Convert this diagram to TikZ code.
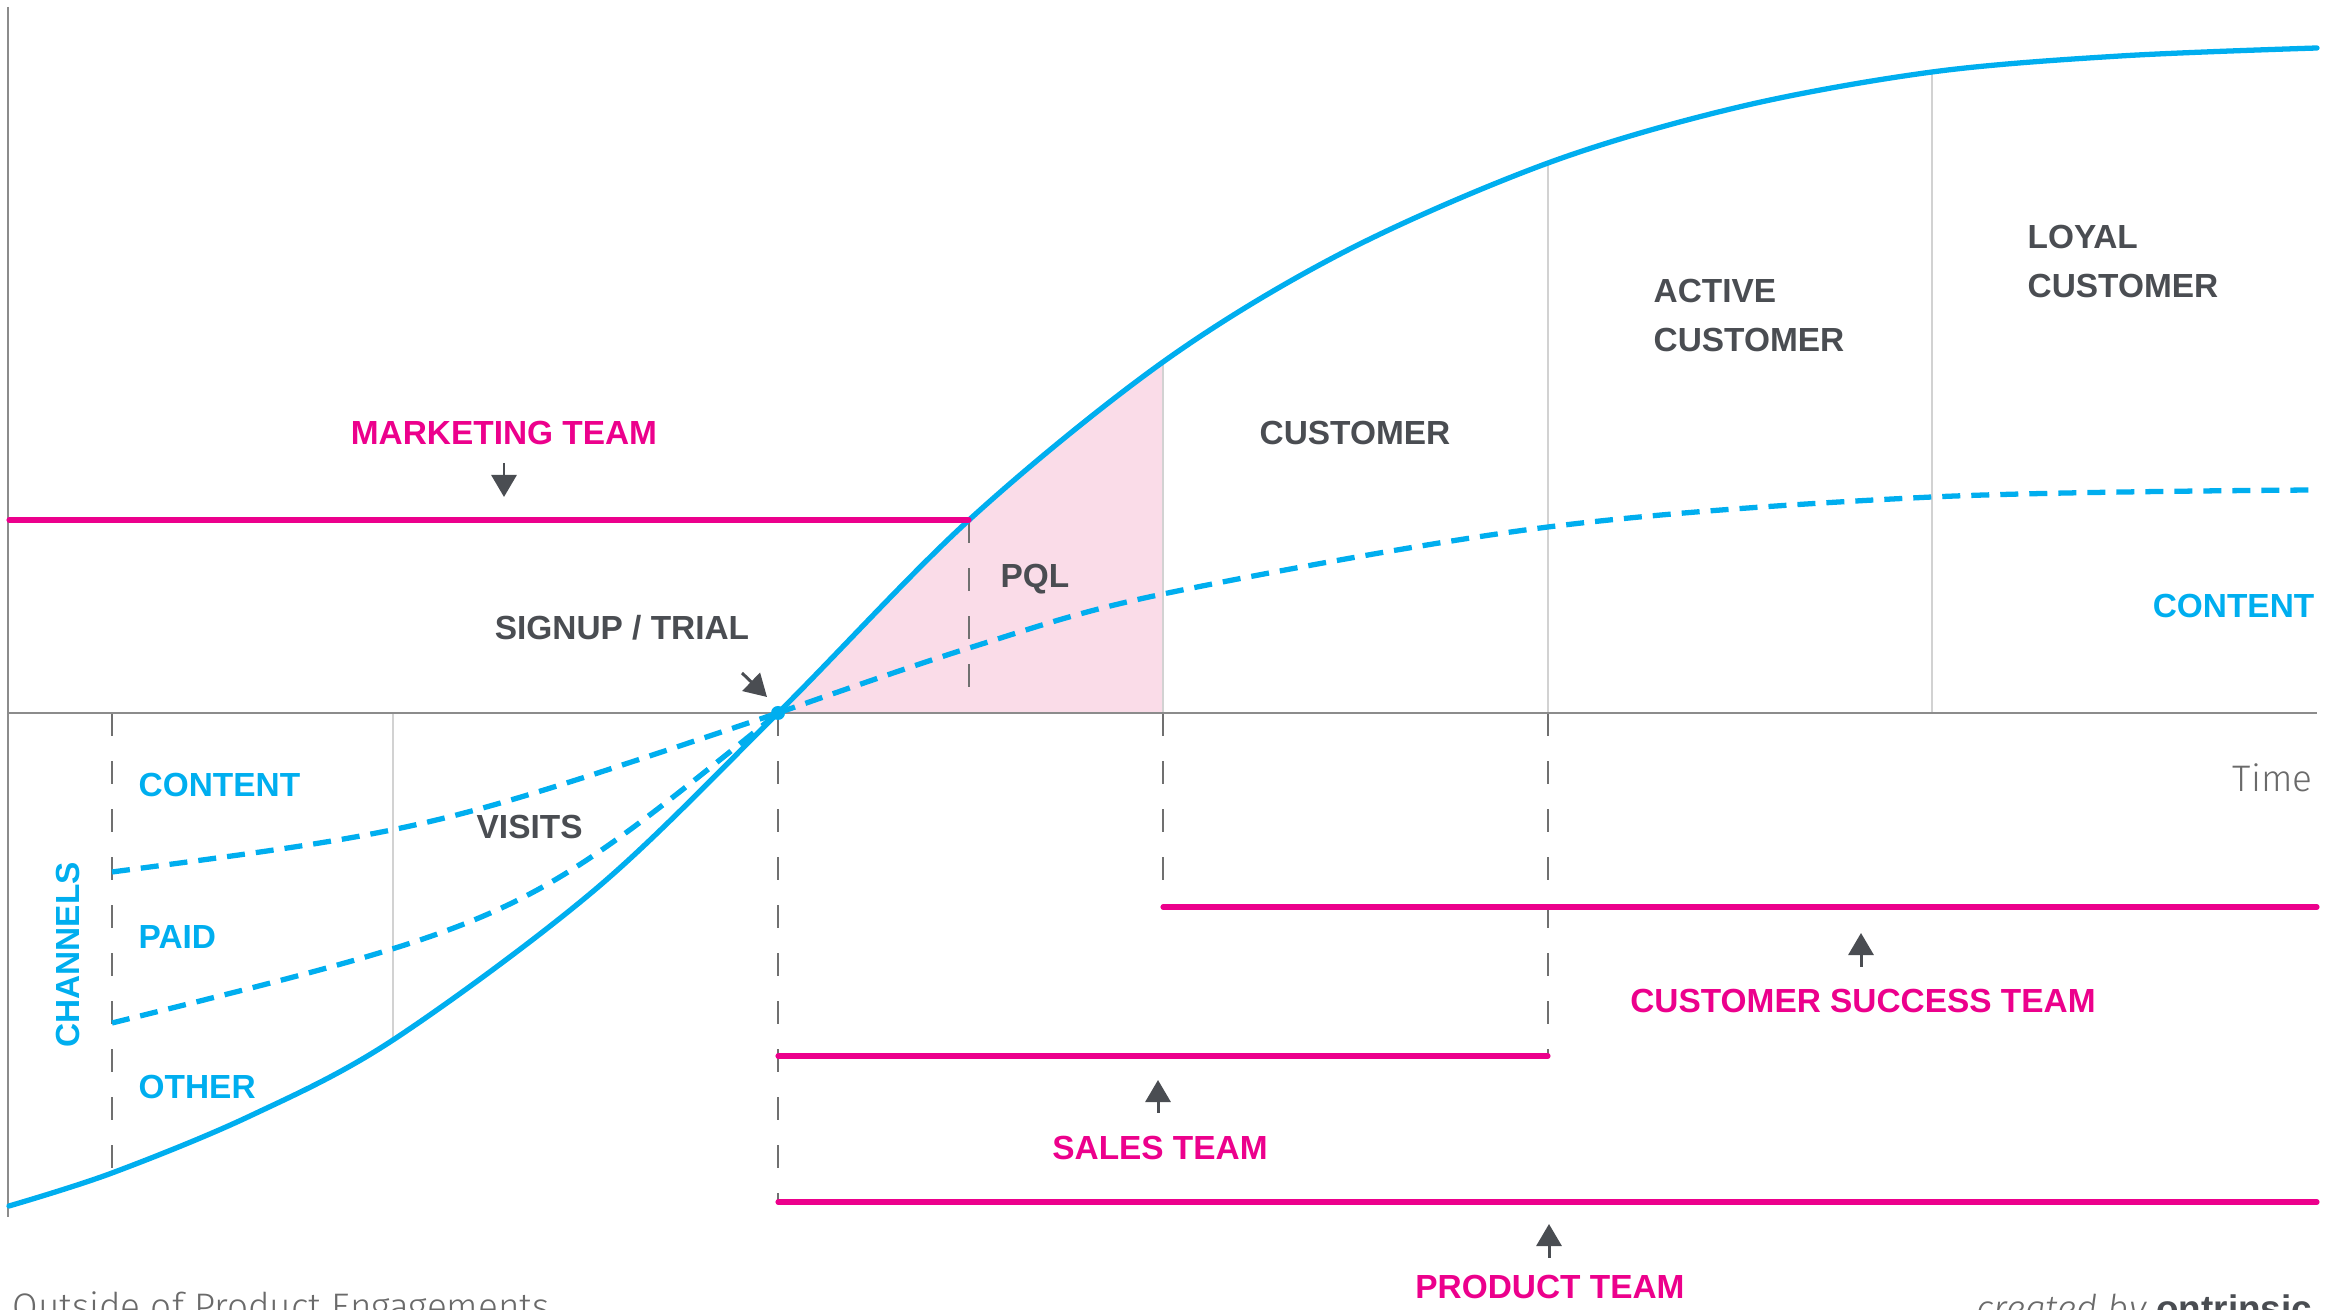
\documentclass[tikz,border=0pt]{standalone}
\usepackage{fontspec}
\setmainfont{Liberation Sans}
\newfontfamily\lightfont{Fira Sans Light}
\usetikzlibrary{arrows.meta}

\definecolor{sky}{HTML}{00AEEF}
\definecolor{rose}{HTML}{EC008C}
\definecolor{ink}{HTML}{4A4D52}
\definecolor{blush}{HTML}{FADCE8}
\definecolor{axisgrey}{HTML}{8C8C8C}
\definecolor{rulegrey}{HTML}{D2D2D2}
\definecolor{tickgrey}{HTML}{707070}
\definecolor{softgrey}{HTML}{6A6A6A}

% growth curve of the funnel, used for the line and for the PQL area
\def\growth{plot[smooth,tension=0.55] coordinates {
  (9,1206) (112,1173) (250,1116) (393,1040) (597,888) (778,713)
  (969,520) (1163,362) (1344,252) (1548,163) (1739,107) (1932,72)
  (2120,56) (2317,48)}}

\begin{document}
\begin{tikzpicture}[x=0.01cm,y=-0.01cm,
  lbl/.style={font=\fontsize{9.5}{13.94}\selectfont\bfseries, inner sep=0pt},
  stage/.style={lbl, text=ink, align=left},
  team/.style={lbl, text=rose, anchor=base},
  chan/.style={lbl, text=sky, anchor=base west},
  thin/.style={font=\lightfont\fontsize{10.5}{12}\selectfont, text=softgrey, inner sep=0pt},
  curveline/.style={draw=sky, line width=1.5pt, line cap=round},
  dashcurve/.style={draw=sky, line width=1.5pt, dash pattern=on 0.18cm off 0.11cm},
  teamline/.style={draw=rose, line width=1.45pt, line cap=round},
  rule/.style={draw=rulegrey, line width=0.45pt},
  tick/.style={draw=tickgrey, line width=0.55pt, dash pattern=on 0.23cm off 0.25cm},
  pointer/.style={draw=ink, line width=0.85pt, -{Triangle[length=0.22cm,width=0.25cm]}},
]
\useasboundingbox (0,0) rectangle (2341,1310);

% PQL area under the curve
\begin{scope}
  \clip (778,0) rectangle (1163,713);
  \fill[blush] \growth -- (2317,713) -- (9,713) -- cycle;
\end{scope}

% key points
\coordinate (o) at (778,713);
\coordinate (yTop) at (8,7);
\coordinate (yBot) at (8,1217);
\coordinate (xL) at (8,713);
\coordinate (xR) at (2317,713);

% stage separators
\draw[rule] (393,713) -- (393,1040);
\draw[rule] (1163,362) -- (1163,713);
\draw[rule] (1548,163) -- (1548,713);
\draw[rule] (1932,72) -- (1932,713);

% hand-off markers
\draw[tick] (969,520) -- (969,713);
\draw[tick] (112,713) -- (112,1173);
\draw[tick] (778,713) -- (778,1202);
\draw[tick] (1163,713) -- (1163,906);
\draw[tick] (1548,713) -- (1548,1055);

% axes
\draw[axisgrey, line width=0.5pt] (yTop) -- (yBot);
\draw[axisgrey, line width=0.6pt] (xL) -- (xR);

% channel and content curves
\coordinate (chA) at (112,872);
\coordinate (chB) at (112,1023);
\draw[dashcurve] (chA) .. controls (430,830) .. (o);
\draw[dashcurve] (chB) .. controls (521,921) .. (o);
\draw[dashcurve] plot[smooth,tension=0.55] coordinates {(778,713) (969,648) (1163,594) (1548,527) (1932,497) (2317,490)};

% growth curve
\draw[curveline] \growth;
\fill[sky] (o) circle[radius=0.07cm];

% team lines
\coordinate (mkA) at (9,520);   \coordinate (mkB) at (969,520);
\coordinate (csA) at (1163,907); \coordinate (csB) at (2317,907);
\coordinate (saA) at (778,1056); \coordinate (saB) at (1548,1056);
\coordinate (prA) at (778,1202); \coordinate (prB) at (2317,1202);
\draw[teamline] (mkA) -- (mkB);
\draw[teamline] (csA) -- (csB);
\draw[teamline] (saA) -- (saB);
\draw[teamline] (prA) -- (prB);

% pointers
\coordinate (mkP) at (504,463);  \coordinate (mkT) at (504,497);
\coordinate (suP) at (742,673);  \coordinate (suT) at (767,697);
\coordinate (csP) at (1861,967); \coordinate (csT) at (1861,933);
\coordinate (saP) at (1158,1113); \coordinate (saT) at (1158,1080);
\coordinate (prP) at (1549,1258); \coordinate (prT) at (1549,1224);
\draw[pointer] (mkP) -- (mkT);
\draw[pointer] (suP) -- (suT);
\draw[pointer] (csP) -- (csT);
\draw[pointer] (saP) -- (saT);
\draw[pointer] (prP) -- (prT);

% team labels
\node[team] (mkt) at (504,445) {MARKETING TEAM};
\node[team] (cst) at (1863,1013) {CUSTOMER SUCCESS TEAM};
\node[team] (sat) at (1160,1160) {SALES TEAM};
\node[team] (prt) at (1550,1299) {PRODUCT TEAM};

% stage labels
\node[stage, anchor=base] (signup) at (622,640) {SIGNUP / TRIAL};
\node[stage, anchor=base west] (pql) at (1000,588) {PQL};
\node[stage, anchor=base west] (cust) at (1259,445) {CUSTOMER};
\node[stage, anchor=north west] (active) at (1653,278) {ACTIVE\\CUSTOMER};
\node[stage, anchor=north west] (loyal) at (2027,224) {LOYAL\\CUSTOMER};
\node[stage, anchor=base west] (visits) at (476,839) {VISITS};

% channels
\node[chan] (cContent) at (138,797) {CONTENT};
\node[chan] (cPaid) at (138,949) {PAID};
\node[chan] (cOther) at (138,1099) {OTHER};
\node[chan, anchor=base, rotate=90] (channels) at (79,955) {CHANNELS};
\node[lbl, text=sky, anchor=base east] (rContent) at (2315,618) {CONTENT};

% axis and footer notes
\node[thin, anchor=base east] (time) at (2313,792) {Time};
\node[thin, anchor=base west] (outside) at (12,1320) {Outside of Product Engagements};
\node[thin, anchor=base east] (credit) at (2313,1322) {\itshape created by \upshape{\fontspec{Liberation Sans}\bfseries\color{ink}ontrinsic}};

\end{tikzpicture}
\end{document}
